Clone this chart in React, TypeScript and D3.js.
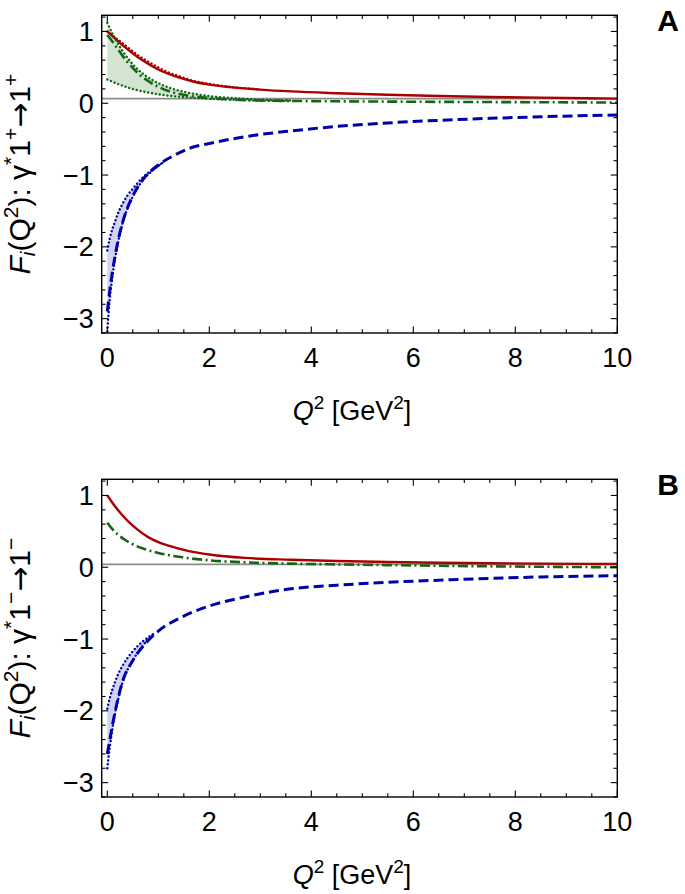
import React from "react";
import * as d3 from "d3";

// ---------- DATA ----------
const xTicks = [0, 2, 4, 6, 8, 10];
const yTicks = [-3, -2, -1, 0, 1];

// Panel A: γ*1+ → 1+
const redA_q = [0, 0.2, 0.4, 0.6, 0.8, 1.0, 1.2, 1.4, 1.7, 2, 2.4, 3, 3.6, 4.5, 5.5, 6.5, 7.5, 8.5, 10];
const redA_v = [1.0, 0.87, 0.75, 0.64, 0.55, 0.47, 0.41, 0.36, 0.3, 0.26, 0.225, 0.19, 0.165, 0.14, 0.118, 0.1, 0.088, 0.078, 0.065];
const redBandA_q = [0, 0.2, 0.4, 0.6, 0.8, 1.0, 1.2, 1.4, 1.7, 2, 2.4, 3];
const redBandA_up = [1.0, 0.89, 0.78, 0.67, 0.58, 0.5, 0.43, 0.38, 0.31, 0.27, 0.23, 0.19];
const redBandA_lo = [1.0, 0.87, 0.75, 0.64, 0.55, 0.47, 0.41, 0.36, 0.3, 0.26, 0.225, 0.19];

const greenA_q = [0, 0.1, 0.2, 0.3, 0.4, 0.6, 0.8, 1.0, 1.2, 1.6, 2, 2.5, 3, 3.6, 4.5, 5.5, 7, 8.5, 10];
const greenA_v = [0.95, 0.86, 0.76, 0.66, 0.57, 0.42, 0.31, 0.23, 0.17, 0.105, 0.072, 0.05, 0.038, 0.032, 0.027, 0.023, 0.018, 0.014, 0.01];
const greenBandA_q = [0, 0.1, 0.2, 0.3, 0.4, 0.6, 0.8, 1.0, 1.2, 1.6, 2, 2.5, 3, 3.6];
const greenBandA_up = [1.12, 0.97, 0.84, 0.73, 0.63, 0.47, 0.36, 0.28, 0.22, 0.145, 0.1, 0.07, 0.05, 0.04];
const greenBandA_lo = [0.33, 0.3, 0.27, 0.245, 0.22, 0.18, 0.15, 0.125, 0.105, 0.08, 0.062, 0.048, 0.038, 0.032];

const blueA_q = [0, 0.05, 0.1, 0.2, 0.3, 0.4, 0.5, 0.7, 1.0, 1.3, 1.6, 2, 2.5, 3, 3.6, 4.5, 5.5, 6.5, 7.5, 8.5, 10];
const blueA_v = [-2.9, -2.6, -2.35, -1.95, -1.66, -1.45, -1.29, -1.06, -0.86, -0.73, -0.63, -0.56, -0.49, -0.435, -0.386, -0.322, -0.274, -0.238, -0.21, -0.188, -0.163];
const blueBandA_q = [0, 0.05, 0.1, 0.15, 0.2, 0.3, 0.4, 0.5, 0.7, 0.9, 1.1];
const blueBandA_up = [-2.05, -1.88, -1.75, -1.65, -1.55, -1.4, -1.28, -1.19, -1.03, -0.92, -0.82];
const blueBandA_lo = [-3.18, -2.72, -2.42, -2.17, -1.98, -1.67, -1.46, -1.3, -1.07, -0.93, -0.82];

// Panel B: γ*1- → 1-
const redB_q = [0, 0.15, 0.3, 0.45, 0.6, 0.8, 1.0, 1.2, 1.6, 2, 2.7, 3.6, 4.5, 5.5, 6.5, 7.5, 8.5, 10];
const redB_v = [1.0, 0.85, 0.72, 0.61, 0.52, 0.42, 0.35, 0.3, 0.225, 0.178, 0.13, 0.105, 0.088, 0.073, 0.063, 0.056, 0.05, 0.045];

const greenB_q = [0, 0.1, 0.2, 0.35, 0.5, 0.7, 1.0, 1.4, 2, 2.7, 3.6, 4.5, 5.5, 7.5, 10];
const greenB_v = [0.62, 0.53, 0.46, 0.38, 0.32, 0.26, 0.2, 0.145, 0.097, 0.068, 0.05, 0.04, 0.03, 0.013, 0.0];

const blueB_q = [0, 0.05, 0.1, 0.2, 0.3, 0.5, 0.75, 1.0, 1.5, 2, 2.6, 3.6, 4.5, 5.5, 6.5, 7.5, 8.5, 10];
const blueB_v = [-2.6, -2.4, -2.2, -1.86, -1.59, -1.3, -1.06, -0.89, -0.68, -0.54, -0.43, -0.3, -0.25, -0.21, -0.18, -0.155, -0.135, -0.117];
const blueBandB_q = [0, 0.05, 0.1, 0.15, 0.2, 0.3, 0.5, 0.7, 0.9];
const blueBandB_up = [-1.97, -1.82, -1.7, -1.6, -1.51, -1.37, -1.17, -1.03, -0.93];
const blueBandB_lo = [-2.8, -2.5, -2.25, -2.04, -1.88, -1.6, -1.3, -1.09, -0.94];

const refLineA = 0.065;
const refLineB = 0.04;

// ---------- STYLE ----------
const RED = "#aa0000";
const GREEN = "#136613";
const BLUE = "#0000aa";
const FONT = "'Liberation Sans', Arial, Helvetica, sans-serif";

const W = 685;
const H = 894;
const LEFT = 101.7;
const RIGHT = 617.3;
const PH = 317.7;

const x = d3.scaleLinear().domain([-0.11, 10]).range([LEFT, RIGHT]);

type Band = { q: number[]; up: number[]; lo: number[]; fill: string; stroke: string; dotUp: boolean; dotLo: boolean };
type Line = { q: number[]; v: number[]; color: string; dash: string; width: number };

function zip(q: number[], v: number[]) {
  return q.map((d, i) => [d, v[i]] as [number, number]);
}

function Panel({ top, label, sign, bands, lines, refLine, id }: { top: number; label: string; sign: string; bands: Band[]; lines: Line[]; refLine: number; id: string }) {
  const y = d3.scaleLinear().domain([-3.2, 1.225]).range([top + PH, top]);
  const bottom = top + PH;
  const line = d3
    .line<[number, number]>()
    .x((d) => x(d[0]))
    .y((d) => y(d[1]))
    .curve(d3.curveMonotoneX);
  const area = d3
    .area<[number, number, number]>()
    .x((d) => x(d[0]))
    .y0((d) => y(d[1]))
    .y1((d) => y(d[2]))
    .curve(d3.curveMonotoneX);

  const xMinor = d3.range(0, 10.001, 0.5);
  const yMinor = d3.range(-3.2, 1.21, 0.2).map((v) => Math.round(v * 10) / 10);
  const cy = (top + bottom) / 2;
  const sup = 19;
  const ysup = 21;

  return (
    <g>
      <defs>
        <clipPath id={id}>
          <rect x={LEFT} y={top} width={RIGHT - LEFT} height={PH} />
        </clipPath>
      </defs>
      <g clipPath={`url(#${id})`}>
        {bands.map((b, i) => (
          <path key={"bf" + i} d={area(b.q.map((q, j) => [q, b.lo[j], b.up[j]] as [number, number, number])) || ""} fill={b.fill} stroke="none" />
        ))}
        <line x1={LEFT} x2={RIGHT} y1={y(refLine)} y2={y(refLine)} stroke="#8c8c8c" strokeWidth={1.6} />
        {lines.map((l, i) => (
          <path key={"l" + i} d={line(zip(l.q, l.v)) || ""} fill="none" stroke={l.color} strokeWidth={l.width} strokeDasharray={l.dash} />
        ))}
        {bands.map((b, i) => (
          <g key={"bd" + i}>
            {b.dotUp && <path d={line(zip(b.q, b.up)) || ""} fill="none" stroke={b.stroke} strokeWidth={2.4} strokeDasharray="0.1 3.8" strokeLinecap="round" />}
            {b.dotLo && <path d={line(zip(b.q, b.lo)) || ""} fill="none" stroke={b.stroke} strokeWidth={2.4} strokeDasharray="0.1 3.8" strokeLinecap="round" />}
          </g>
        ))}
      </g>
      <rect x={LEFT} y={top} width={RIGHT - LEFT} height={PH} fill="none" stroke="#000" strokeWidth={1.4} />
      {xMinor.map((t) => {
        const major = Math.abs(t - Math.round(t / 2) * 2) < 1e-6;
        const len = major ? 6.5 : 3.8;
        return (
          <g key={"xt" + t}>
            <line x1={x(t)} x2={x(t)} y1={bottom} y2={bottom - len} stroke="#000" strokeWidth={1.1} />
            <line x1={x(t)} x2={x(t)} y1={top} y2={top + len} stroke="#000" strokeWidth={1.1} />
          </g>
        );
      })}
      {yMinor.map((t) => {
        const major = Math.abs(t - Math.round(t)) < 1e-6;
        const len = major ? 6.5 : 3.8;
        return (
          <g key={"yt" + t}>
            <line x1={LEFT} x2={LEFT + len} y1={y(t)} y2={y(t)} stroke="#000" strokeWidth={1.1} />
            <line x1={RIGHT} x2={RIGHT - len} y1={y(t)} y2={y(t)} stroke="#000" strokeWidth={1.1} />
          </g>
        );
      })}
      {xTicks.map((t) => (
        <text key={"xl" + t} x={x(t)} y={bottom + 34} textAnchor="middle" fontSize={27} fontFamily={FONT}>
          {String(t)}
        </text>
      ))}
      {yTicks.map((t) => (
        <text key={"yl" + t} x={LEFT - 8} y={y(t) + 9.5} textAnchor="end" fontSize={27} fontFamily={FONT}>
          {t < 0 ? "\u2212" + Math.abs(t) : String(t)}
        </text>
      ))}
      <text x={352} y={bottom + 87} textAnchor="middle" fontSize={27} fontFamily={FONT}>
        <tspan fontStyle="italic">Q</tspan>
        <tspan fontSize={sup} dy={-11}>2</tspan>
        <tspan dy={11}> [GeV</tspan>
        <tspan fontSize={sup} dy={-11}>2</tspan>
        <tspan dy={11}>]</tspan>
      </text>
      <text transform={`translate(30, ${cy}) rotate(-90)`} textAnchor="middle" fontSize={30} fontFamily={FONT}>
        <tspan fontStyle="italic">F</tspan>
        <tspan fontStyle="italic" fontSize={ysup} dy={5}>i</tspan>
        <tspan dy={-5}>(Q</tspan>
        <tspan fontSize={ysup} dy={-12}>2</tspan>
        <tspan dy={12}>): γ</tspan>
        <tspan fontSize={ysup} dy={-12}>*</tspan>
        <tspan dy={12}>1</tspan>
        <tspan fontSize={ysup} dy={-12}>{sign}</tspan>
        <tspan dy={12} fontFamily="'DejaVu Sans', sans-serif">→</tspan>
        <tspan>1</tspan>
        <tspan fontSize={ysup} dy={-12}>{sign}</tspan>
      </text>
      <text x={668} y={top + 16} textAnchor="middle" fontSize={30} fontWeight="bold" fontFamily={FONT}>
        {label}
      </text>
    </g>
  );
}

export default function App() {
  const bandsA: Band[] = [
    { q: greenBandA_q, up: greenBandA_up, lo: greenBandA_lo, fill: "#d3e4d3", stroke: GREEN, dotUp: true, dotLo: true },
    { q: blueBandA_q, up: blueBandA_up, lo: blueBandA_lo, fill: "#d2d3f0", stroke: BLUE, dotUp: true, dotLo: true },
    { q: redBandA_q, up: redBandA_up, lo: redBandA_lo, fill: "#f0d0d0", stroke: RED, dotUp: true, dotLo: false },
  ];
  const linesA: Line[] = [
    { q: redA_q, v: redA_v, color: RED, dash: "none", width: 2.4 },
    { q: greenA_q, v: greenA_v, color: GREEN, dash: "10 3.5 2 3.5", width: 2.6 },
    { q: blueA_q, v: blueA_v, color: BLUE, dash: "10 5", width: 3 },
  ];
  const bandsB: Band[] = [
    { q: blueBandB_q, up: blueBandB_up, lo: blueBandB_lo, fill: "#d2d3f0", stroke: BLUE, dotUp: true, dotLo: true },
  ];
  const linesB: Line[] = [
    { q: redB_q, v: redB_v, color: RED, dash: "none", width: 2.4 },
    { q: greenB_q, v: greenB_v, color: GREEN, dash: "10 3.5 2 3.5", width: 2.6 },
    { q: blueB_q, v: blueB_v, color: BLUE, dash: "10 5", width: 3 },
  ];
  return (
    <svg width={W} height={H} viewBox={`0 0 ${W} ${H}`} style={{ position: "absolute", left: 0, top: 0, background: "#fff" }}>
      <rect x={0} y={0} width={W} height={H} fill="#fff" />
      <Panel id="clipA" top={15.3} label="A" sign="+" bands={bandsA} lines={linesA} refLine={refLineA} />
      <Panel id="clipB" top={479.3} label="B" sign={"\u2212"} bands={bandsB} lines={linesB} refLine={refLineB} />
    </svg>
  );
}
